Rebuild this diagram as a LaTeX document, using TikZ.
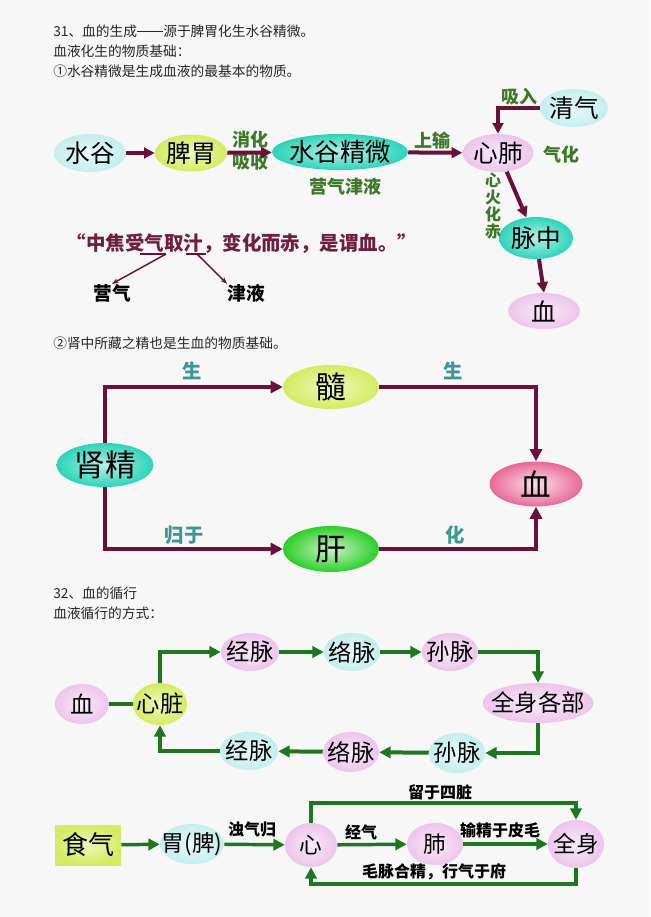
\documentclass[tikz,border=0pt]{standalone}
\usepackage{fontspec}
\setmainfont{Noto Sans CJK SC}
\usetikzlibrary{shapes.geometric,arrows.meta}
\definecolor{bloodline}{RGB}{106,16,58}
\definecolor{veingreen}{RGB}{30,118,30}
\definecolor{labelgreen}{RGB}{60,120,40}
\definecolor{labelteal}{RGB}{60,150,150}
\definecolor{quotered}{RGB}{110,30,65}
\definecolor{paleaqua}{RGB}{196,238,238}
\definecolor{limeyellow}{RGB}{212,236,96}
\definecolor{aquagreen}{RGB}{44,212,186}
\definecolor{softpink}{RGB}{238,196,236}
\definecolor{rosered}{RGB}{232,104,150}
\definecolor{leafgreen}{RGB}{44,206,40}

\begin{document}
\begin{tikzpicture}[x=0.75pt, y=-0.75pt,
    every node/.style={inner sep=0pt, text=black},
    sz/.style 2 args={minimum width=#1*0.75pt, minimum height=#2*0.75pt},
    blob/.style={ellipse, inner xsep=-6pt, inner ysep=0pt},
    aqua/.style={blob, inner color=paleaqua!35!white, outer color=paleaqua},
    lime/.style={blob, inner color=limeyellow!40!white, outer color=limeyellow},
    teal/.style={blob, inner color=aquagreen!35!white, outer color=aquagreen},
    pink/.style={blob, inner color=softpink!35!white, outer color=softpink},
    rose/.style={blob, inner color=rosered!20!white, outer color=rosered},
    leaf/.style={blob, inner color=leafgreen!25!white, outer color=leafgreen},
    limebox/.style={rectangle, inner color=limeyellow!40!white, outer color=limeyellow},
    headline/.style={anchor=west, font=\fontsize{10.3}{12}\selectfont, text=black!85},
    greentag/.style={text=labelgreen, font=\fontsize{13.5}{15}\selectfont\bfseries},
    tealtag/.style={text=labelteal, font=\fontsize{14.5}{16}\selectfont\bfseries},
    blacktag/.style={font=\fontsize{12}{14}\selectfont\bfseries},
    redarrow/.style={draw=bloodline, line width=3pt, -{Triangle[length=8pt,width=8pt]}},
    redthin/.style={draw=bloodline, line width=1.1pt},
    greenarrow/.style={draw=veingreen, line width=3pt, -{Triangle[length=8.5pt,width=8.5pt]}}
]
\useasboundingbox[fill=white!97!black] (0,0) rectangle (650,917);

% headings
\node[headline] (h31) at (53,31) {31、血的生成\rule[0.3em]{1.9em}{0.11em}源于脾胃化生水谷精微。};
\node[headline] (h31b) at (53,51) {血液化生的物质基础：};
\node[headline] (h31c) at (53,71) {①水谷精微是生成血液的最基本的物质。};
\node[headline] (h31d) at (53,343) {②肾中所藏之精也是生血的物质基础。};
\node[headline] (h32) at (53,593) {32、血的循行};
\node[headline] (h32b) at (53,613) {血液循行的方式：};

% 水谷 -> 血
\begin{scope}[every node/.append style={font=\fontsize{18.5}{20}\selectfont}]
\node[aqua, sz={72}{38}] (shuigu) at (90,153) {水谷};
\node[lime, sz={72}{37}] (piwei) at (191,153) {脾胃};
\node[teal, sz={136}{36}, font=\fontsize{19}{20}\selectfont] (jingwei) at (340,152) {水谷精微};
\node[pink, sz={71}{38}] (xinfei) at (498,153) {心肺};
\node[aqua, sz={68}{38}] (qingqi) at (574,108) {清气};
\node[teal, sz={74}{42}] (maizhong) at (536,238) {脉中};
\node[pink, sz={72}{36}] (xue) at (544,311) {血};
\end{scope}

\node[greentag] (xiaohua) at (250,140) {消化};
\node[greentag] (xishou) at (250,162) {吸收};
\node[greentag] (yingjin) at (345,187) {营气津液};
\node[greentag] (shangshu) at (432,141) {上输};
\node[greentag] (xiru) at (519,97) {吸入};
\node[greentag] (qihua) at (561,155) {气化};
\node[greentag, align=center, font=\fontsize{12}{12.75}\selectfont\bfseries] (xinhuo) at (493,206) {心\\火\\化\\赤};

\draw[redarrow] (shuigu) -- (piwei);
\draw[redarrow] (piwei) -- (jingwei);
\draw[redarrow] (jingwei) -- (xinfei);
\draw[redarrow] (qingqi) -| (xinfei);
\draw[redarrow] (xinfei.-65) -- (maizhong.115);
\draw[redarrow] (maizhong.-82) -- (xue.north);

% 中焦受气取汁
\node[text=quotered, font=\fontsize{14.6}{16}\selectfont\bfseries] (quote) at (242,244) {“中焦受气取汁，变化而赤，是谓血。”};
\node[font=\fontsize{14}{16}\selectfont\bfseries] (yingqi) at (112,293) {营气};
\node[font=\fontsize{14}{16}\selectfont\bfseries] (jinye) at (246,293) {津液};
\coordinate (qa) at (140,254);
\coordinate (qb) at (166,254);
\coordinate (qc) at (186,254);
\coordinate (qm) at (197,254);
\coordinate (qd) at (206,254);
\draw[redthin] (qa) -- (qb);
\draw[redthin, -{Stealth[length=5pt]}] (qb) -- (yingqi.north);
\draw[redthin] (qc) -- (qd);
\draw[redthin, -{Stealth[length=5pt]}] (qm) -- (jinye.north west);

% 肾精
\begin{scope}[every node/.append style={font=\fontsize{23}{25}\selectfont}]
\node[teal, sz={97}{44}] (shenjing) at (105,465) {肾精};
\node[lime, sz={96}{44}] (sui) at (331,387) {髓};
\node[leaf, sz={96}{46}] (gan) at (331,549) {肝};
\node[rose, sz={93}{45}] (xue2) at (536,484) {血};
\end{scope}

\node[tealtag] (sheng1) at (192,371) {生};
\node[tealtag] (sheng2) at (453,371) {生};
\node[tealtag] (guiyu) at (184,535) {归于};
\node[tealtag] (hua) at (455,535) {化};

\draw[redarrow, line width=2.6pt, -{Triangle[length=9pt,width=9pt]}] (shenjing) |- (sui);
\draw[redarrow, line width=2.6pt, -{Triangle[length=9pt,width=9pt]}] (sui) -| (xue2);
\draw[redarrow, line width=2.6pt, -{Triangle[length=9pt,width=9pt]}] (shenjing) |- (gan);
\draw[redarrow, line width=2.6pt, -{Triangle[length=9pt,width=9pt]}] (gan) -| (xue2);

% 血液循行
\begin{scope}[every node/.append style={font=\fontsize{17.5}{19}\selectfont}]
\node[pink, sz={54}{40}] (xue3) at (82,704) {血};
\node[lime, sz={54}{42}] (xinzang) at (160,704) {心脏};
\node[pink, sz={58}{38}] (jing1) at (250,652) {经脉};
\node[aqua, sz={56}{38}] (luo1) at (352,652) {络脉};
\node[pink, sz={56}{38}] (sun1) at (450,652) {孙脉};
\node[pink, sz={111}{40}] (quanbu) at (538,703) {全身各部};
\node[aqua, sz={56}{40}] (sun2) at (457,753) {孙脉};
\node[pink, sz={56}{40}] (luo2) at (351,752) {络脉};
\node[aqua, sz={58}{38}] (jing2) at (249,751) {经脉};
\end{scope}

\draw[draw=veingreen, line width=3pt] (xue3) -- (xinzang);
\draw[greenarrow] (xinzang) |- (jing1);
\draw[greenarrow] (jing1) -- (luo1);
\draw[greenarrow] (luo1) -- (sun1);
\draw[greenarrow] (sun1) -| (quanbu);
\draw[greenarrow] (quanbu) |- (sun2);
\draw[greenarrow] (sun2) -- (luo2);
\draw[greenarrow] (luo2) -- (jing2);
\draw[greenarrow] (jing2) -| (xinzang);

% 食气
\begin{scope}[every node/.append style={font=\fontsize{17}{19}\selectfont}]
\node[limebox, sz={66}{40}, font=\fontsize{19.5}{21}\selectfont] (shiqi) at (88,845) {食气};
\node[aqua, sz={64}{40}] (wei) at (192,844) {胃(脾)};
\node[pink, sz={52}{44}] (xin) at (311,845) {心};
\node[pink, sz={56}{42}] (fei) at (435,844) {肺};
\node[pink, sz={56}{48}] (quanshen) at (576,844) {全身};
\end{scope}

\node[blacktag] (zhuoqi) at (252,830) {浊气归};
\node[blacktag] (jingqi) at (361,832) {经气};
\node[blacktag] (shujing) at (500,830) {输精于皮毛};
\node[blacktag] (liuyu) at (440,792) {留于四脏};
\node[blacktag] (maomai) at (434,872) {毛脉合精，行气于府};
\coordinate (liu) at (440,803);
\coordinate (mao) at (440,884);

\draw[greenarrow, line width=2.6pt] (shiqi) -- (wei);
\draw[greenarrow, line width=2.6pt] (wei) -- (xin);
\draw[greenarrow, line width=2.6pt] (xin) -- (fei);
\draw[greenarrow, line width=2.6pt] (fei) -- (quanshen);
\draw[greenarrow, line width=2.6pt] (xin) |- (liu) -| (quanshen);
\draw[greenarrow, line width=2.6pt] (quanshen) |- (mao) -| (xin);
\end{tikzpicture}
\end{document}
